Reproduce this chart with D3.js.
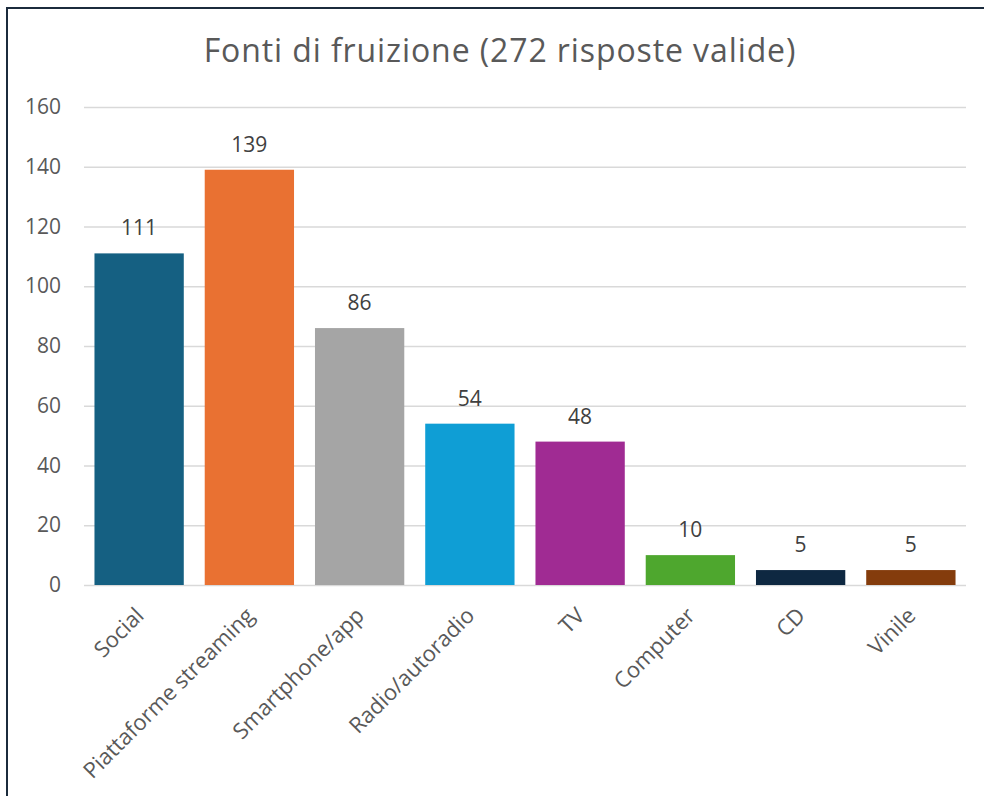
<!DOCTYPE html>
<html>
<head>
<meta charset="utf-8">
<script src="https://cdn.jsdelivr.net/npm/d3@7"></script>
<style>
  html, body { margin: 0; padding: 0; background: #fff; }
  svg { display: block; font-family: "Open Sans", "Liberation Sans", Arial, sans-serif; }
</style>
</head>
<body>
<div id="chart"></div>
<script>
// chart data
var categories = ["Social", "Piattaforme streaming", "Smartphone/app", "Radio/autoradio", "TV", "Computer", "CD", "Vinile"];
var values = [111, 139, 86, 54, 48, 10, 5, 5];
var barColors = ["#156082", "#E97132", "#A5A5A5", "#0F9ED5", "#A02B93", "#4EA72E", "#0E2841", "#843C0C"];
var yTicks = [0, 20, 40, 60, 80, 100, 120, 140, 160];
var title = "Fonti di fruizione (272 risposte valide)";

var width = 984, height = 796;
var plot = {left: 84, right: 966, top: 107, bottom: 585};
var fontFam = "'Open Sans', 'Liberation Sans', Arial, sans-serif";

var svg = d3.select("#chart").append("svg")
    .attr("width", width)
    .attr("height", height);

// outer chart frame (right and bottom run off the picture)
svg.append("rect")
    .attr("x", 7).attr("y", 8)
    .attr("width", 1000).attr("height", 1000)
    .attr("fill", "none")
    .attr("stroke", "#1b2b3c")
    .attr("stroke-width", 2);

svg.append("text")
    .attr("x", 500)
    .attr("y", 62)
    .attr("text-anchor", "middle")
    .attr("fill", "#595959")
    .style("font-size", "32px")
    .style("letter-spacing", "0.9px")
    .text(title);

var x = d3.scaleBand()
    .domain(categories)
    .range([plot.left, plot.right])
    .paddingInner(0.19)
    .paddingOuter(0.095);

var y = d3.scaleLinear()
    .domain([0, 160])
    .range([plot.bottom, plot.top]);

// gridlines + y labels
var yAxis = d3.axisLeft(y)
    .tickValues(yTicks)
    .tickSize(-(plot.right - plot.left))
    .tickPadding(23);

var gy = svg.append("g")
    .attr("transform", "translate(" + plot.left + ",0)")
    .call(yAxis);
gy.select(".domain").remove();
gy.selectAll(".tick line").attr("stroke", "#d9d9d9").attr("stroke-width", 1.5);
gy.selectAll(".tick text")
    .attr("fill", "#595959")
    .style("font-size", "21px")
    .style("font-family", fontFam);

// bars
svg.append("g").selectAll("rect")
    .data(values)
    .enter().append("rect")
    .attr("x", function (d, i) { return x(categories[i]); })
    .attr("y", function (d) { return y(d); })
    .attr("width", x.bandwidth())
    .attr("height", function (d) { return y(0) - y(d); })
    .attr("fill", function (d, i) { return barColors[i]; });

// value labels
svg.append("g").selectAll("text")
    .data(values)
    .enter().append("text")
    .attr("x", function (d, i) { return x(categories[i]) + x.bandwidth() / 2; })
    .attr("y", function (d) { return y(d) - 18; })
    .attr("text-anchor", "middle")
    .attr("fill", "#404040")
    .style("font-size", "21px")
    .text(function (d) { return d; });

// category labels, rotated
var xAxis = d3.axisBottom(x).tickSize(0).tickPadding(0);
var gx = svg.append("g")
    .attr("transform", "translate(0," + plot.bottom + ")")
    .call(xAxis);
gx.select(".domain").remove();
gx.selectAll(".tick text")
    .attr("text-anchor", "end")
    .attr("fill", "#595959")
    .style("font-size", "22px")
    .style("font-family", fontFam)
    .attr("dy", null)
    .attr("y", 0)
    .attr("transform", "translate(6,32) rotate(-45)");
</script>
</body>
</html>
